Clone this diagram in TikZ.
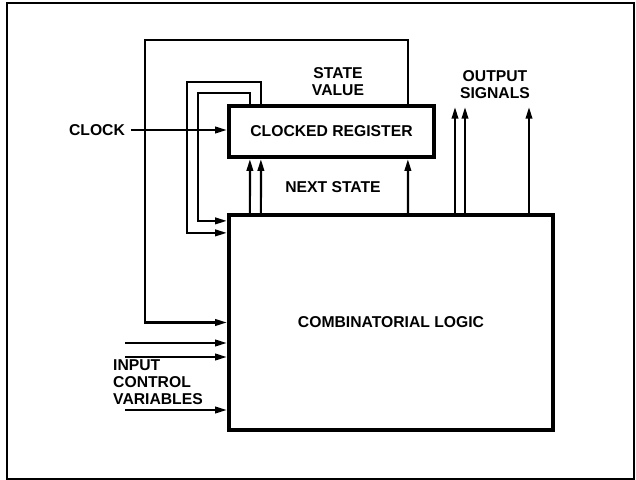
\documentclass[tikz,border=0pt]{standalone}
\usepackage{fontspec}
\setmainfont{Liberation Sans}
\usetikzlibrary{arrows.meta,calc}

\begin{document}
\begin{tikzpicture}[x=0.03cm,y=-0.03cm]
  \tikzstyle{blockbox}=[draw, line width=3.6pt, inner sep=0pt, font=\fontsize{13.4pt}{14.5pt}\selectfont\bfseries]
  \tikzstyle{sig}=[line width=1.9pt, -{Triangle[length=10pt,width=5.5pt]}]
  \tikzstyle{caption}=[inner sep=0pt, align=center, font=\fontsize{13.4pt}{14.5pt}\selectfont\bfseries]
  \useasboundingbox (0,0) rectangle (636,480);
  \draw[line width=1.6pt] (7,3) rectangle (634,479);
  \node[blockbox, minimum width=6.15cm, minimum height=1.53cm] (reg) at (331.5,131.5) {CLOCKED REGISTER};
  \node[blockbox, minimum width=9.72cm, minimum height=6.45cm] (logic) at (391,322.5) {COMBINATORIAL LOGIC};
  \node[caption] (clock) at (97,130) {CLOCK};
  \node[caption] (stateval) at (338,81.5) {STATE\\VALUE};
  \node[caption] (outsig) at (495,85) {OUTPUT\\SIGNALS};
  \node[caption] (nextst) at (333,187) {NEXT STATE};
  \node[caption, align=left, anchor=west] (inctl) at (113,382) {INPUT\\CONTROL\\VARIABLES};
  \coordinate (out1) at (455,107);
  \coordinate (out2) at (465,107);
  \coordinate (out3) at (529,107);
  \coordinate (in1) at (125,343);
  \coordinate (in2) at (125,357);
  \coordinate (in3) at (125,410);
  \draw[sig] ([xshift=5pt]clock.east) -- (clock.east -| reg.west);
  \draw[sig] ($(logic.north west)+(23,0)$) -- ($(reg.south west)+(23,0)$);
  \draw[sig] ($(logic.north west)+(34,0)$) -- ($(reg.south west)+(34,0)$);
  \draw[sig] ($(logic.north west)+(181,0)$) -- ($(reg.south west)+(181,0)$);
  \draw[sig] ($(reg.north west)+(181,0)$) |- (145,40) |- (logic.west);
  \draw[sig] ($(reg.north west)+(34,0)$) |- (187,82) |- ($(logic.north west)+(0,20)$);
  \draw[sig] ($(reg.north west)+(23,0)$) |- (198,93) |- ($(logic.north west)+(0,8)$);
  \draw[sig] (logic.north -| out1) -- (out1);
  \draw[sig] (logic.north -| out2) -- (out2);
  \draw[sig] (logic.north -| out3) -- (out3);
  \draw[sig] (in1) -- (in1 -| logic.west);
  \draw[sig] (in2) -- (in2 -| logic.west);
  \draw[sig] (in3) -- (in3 -| logic.west);
\end{tikzpicture}
\end{document}
